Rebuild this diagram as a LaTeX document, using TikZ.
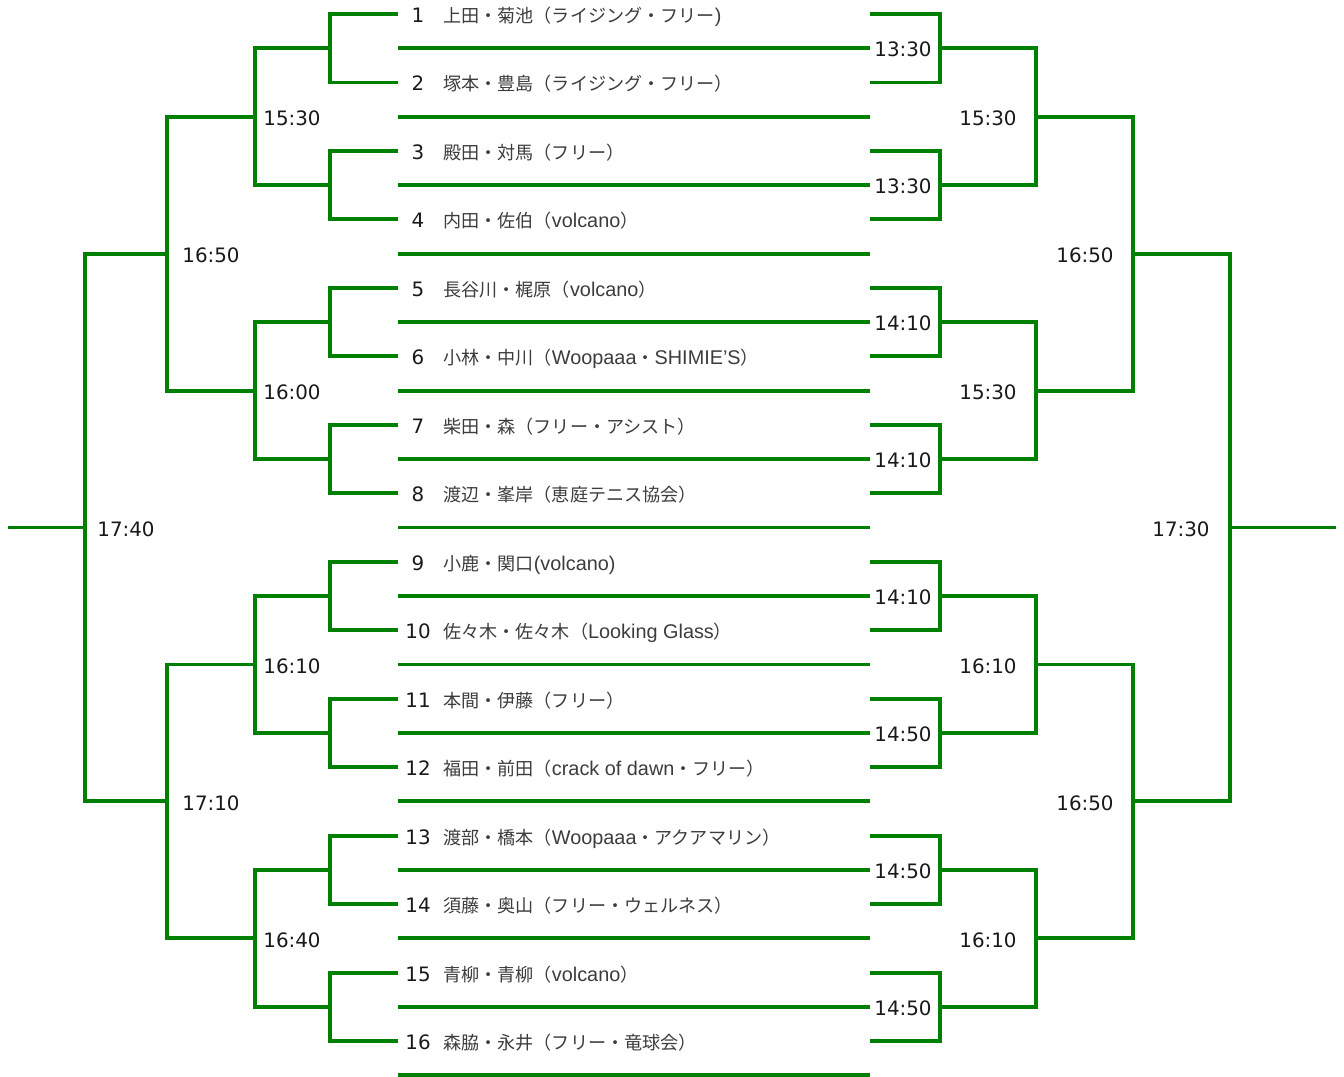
\documentclass[tikz,border=0pt]{standalone}
\usepackage{fontspec}
\setmainfont{DejaVu Sans}
\newfontfamily\jpfont{Noto Sans CJK JP}
\newfontfamily\latfont{Liberation Sans}
\newcommand{\lat}[1]{{\latfont\fontsize{11.3}{13}\selectfont #1}}
\definecolor{tgreen}{RGB}{0,128,0}
\definecolor{namegray}{RGB}{60,60,60}
\tikzset{
	bracket/.style={draw=tgreen, line width=2.2pt},
	rule/.style={draw=tgreen, line width=2.2pt},
	time/.style={anchor=base, inner sep=0pt, yshift=-0.03cm, text=black!90, font=\fontsize{11.3}{13}\selectfont},
	num/.style={anchor=base, inner sep=0pt, yshift=-0.03cm, text=black!90, font=\fontsize{11.3}{13}\selectfont},
	player/.style={anchor=base west, inner sep=0pt, yshift=-0.03cm, text=namegray, font=\jpfont\fontsize{10.3}{12}\selectfont}
}

\begin{document}
\begin{tikzpicture}[x=0.02cm, y=-0.02cm]
	\useasboundingbox (0,0) rectangle (1344,1077);
	
	% entries
	\node[num] (n1) at (418,21) {1};
	\node[player] (p1) at (443,21) {上田・菊池（ライジング・フリー\lat{)}};
	\node[num] (n2) at (418,89.5) {2};
	\node[player] (p2) at (443,89.5) {塚本・豊島（ライジング・フリー）};
	\node[num] (n3) at (418,157.9) {3};
	\node[player] (p3) at (443,157.9) {殿田・対馬（フリー）};
	\node[num] (n4) at (418,226.4) {4};
	\node[player] (p4) at (443,226.4) {内田・佐伯（\lat{volcano}）};
	\node[num] (n5) at (418,294.9) {5};
	\node[player] (p5) at (443,294.9) {長谷川・梶原（\lat{volcano}）};
	\node[num] (n6) at (418,363.4) {6};
	\node[player] (p6) at (443,363.4) {小林・中川（\lat{Woopaaa}・\lat{SHIMIE’S}）};
	\node[num] (n7) at (418,431.8) {7};
	\node[player] (p7) at (443,431.8) {柴田・森（フリー・アシスト）};
	\node[num] (n8) at (418,500.3) {8};
	\node[player] (p8) at (443,500.3) {渡辺・峯岸（恵庭テニス協会）};
	\node[num] (n9) at (418,568.8) {9};
	\node[player] (p9) at (443,568.8) {小鹿・関口\lat{(volcano)}};
	\node[num] (n10) at (418,637.2) {10};
	\node[player] (p10) at (443,637.2) {佐々木・佐々木（\lat{Looking Glass}）};
	\node[num] (n11) at (418,705.7) {11};
	\node[player] (p11) at (443,705.7) {本間・伊藤（フリー）};
	\node[num] (n12) at (418,774.2) {12};
	\node[player] (p12) at (443,774.2) {福田・前田（\lat{crack of dawn}・フリー）};
	\node[num] (n13) at (418,842.6) {13};
	\node[player] (p13) at (443,842.6) {渡部・橋本（\lat{Woopaaa}・アクアマリン）};
	\node[num] (n14) at (418,911.1) {14};
	\node[player] (p14) at (443,911.1) {須藤・奥山（フリー・ウェルネス）};
	\node[num] (n15) at (418,979.6) {15};
	\node[player] (p15) at (443,979.6) {青柳・青柳（\lat{volcano}）};
	\node[num] (n16) at (418,1048.1) {16};
	\node[player] (p16) at (443,1048.1) {森脇・永井（フリー・竜球会）};
	
	% stub ends, left (a) and right (b)
	\coordinate (a1) at (398,14);      \coordinate (b1) at (870,14);
	\coordinate (a2) at (398,82.5);    \coordinate (b2) at (870,82.5);
	\coordinate (a3) at (398,150.9);   \coordinate (b3) at (870,150.9);
	\coordinate (a4) at (398,219.4);   \coordinate (b4) at (870,219.4);
	\coordinate (a5) at (398,287.9);   \coordinate (b5) at (870,287.9);
	\coordinate (a6) at (398,356.4);   \coordinate (b6) at (870,356.4);
	\coordinate (a7) at (398,424.8);   \coordinate (b7) at (870,424.8);
	\coordinate (a8) at (398,493.3);   \coordinate (b8) at (870,493.3);
	\coordinate (a9) at (398,561.8);   \coordinate (b9) at (870,561.8);
	\coordinate (a10) at (398,630.2);  \coordinate (b10) at (870,630.2);
	\coordinate (a11) at (398,698.7);  \coordinate (b11) at (870,698.7);
	\coordinate (a12) at (398,767.2);  \coordinate (b12) at (870,767.2);
	\coordinate (a13) at (398,835.6);  \coordinate (b13) at (870,835.6);
	\coordinate (a14) at (398,904.1);  \coordinate (b14) at (870,904.1);
	\coordinate (a15) at (398,972.6);  \coordinate (b15) at (870,972.6);
	\coordinate (a16) at (398,1041.1); \coordinate (b16) at (870,1041.1);
	
	% junctions
	\coordinate (L1) at (330,48.2);   \coordinate (R1) at (940,48.2);
	\coordinate (L2) at (330,185.2);  \coordinate (R2) at (940,185.2);
	\coordinate (L3) at (330,322.1);  \coordinate (R3) at (940,322.1);
	\coordinate (L4) at (330,459.1);  \coordinate (R4) at (940,459.1);
	\coordinate (L5) at (330,596.0);  \coordinate (R5) at (940,596.0);
	\coordinate (L6) at (330,733.0);  \coordinate (R6) at (940,733.0);
	\coordinate (L7) at (330,869.9);  \coordinate (R7) at (940,869.9);
	\coordinate (L8) at (330,1006.8); \coordinate (R8) at (940,1006.8);
	\coordinate (L9) at (255,116.7);  \coordinate (R9) at (1036,116.7);
	\coordinate (L10) at (255,390.6); \coordinate (R10) at (1036,390.6);
	\coordinate (L11) at (255,664.5); \coordinate (R11) at (1036,664.5);
	\coordinate (L12) at (255,938.4); \coordinate (R12) at (1036,938.4);
	\coordinate (L13) at (167,253.6); \coordinate (R13) at (1133,253.6);
	\coordinate (L14) at (167,801.4); \coordinate (R14) at (1133,801.4);
	\coordinate (L15) at (85,527.5);  \coordinate (R15) at (1230,527.5);
	\coordinate (L0) at (8,527.5);    \coordinate (R0) at (1336,527.5);
	
	% left bracket
	\draw[bracket] (a1) -| (L1) |- (a2);
	\draw[bracket] (a3) -| (L2) |- (a4);
	\draw[bracket] (a5) -| (L3) |- (a6);
	\draw[bracket] (a7) -| (L4) |- (a8);
	\draw[bracket] (a9) -| (L5) |- (a10);
	\draw[bracket] (a11) -| (L6) |- (a12);
	\draw[bracket] (a13) -| (L7) |- (a14);
	\draw[bracket] (a15) -| (L8) |- (a16);
	\draw[bracket] (L1) -| (L9) |- (L2);
	\draw[bracket] (L3) -| (L10) |- (L4);
	\draw[bracket] (L5) -| (L11) |- (L6);
	\draw[bracket] (L7) -| (L12) |- (L8);
	\draw[bracket] (L9) -| (L13) |- (L10);
	\draw[bracket] (L11) -| (L14) |- (L12);
	\draw[bracket] (L13) -| (L15) |- (L14);
	\draw[bracket] (L15) -- (L0);
	
	% right bracket
	\draw[bracket] (b1) -| (R1) |- (b2);
	\draw[bracket] (b3) -| (R2) |- (b4);
	\draw[bracket] (b5) -| (R3) |- (b6);
	\draw[bracket] (b7) -| (R4) |- (b8);
	\draw[bracket] (b9) -| (R5) |- (b10);
	\draw[bracket] (b11) -| (R6) |- (b12);
	\draw[bracket] (b13) -| (R7) |- (b14);
	\draw[bracket] (b15) -| (R8) |- (b16);
	\draw[bracket] (R1) -| (R9) |- (R2);
	\draw[bracket] (R3) -| (R10) |- (R4);
	\draw[bracket] (R5) -| (R11) |- (R6);
	\draw[bracket] (R7) -| (R12) |- (R8);
	\draw[bracket] (R9) -| (R13) |- (R10);
	\draw[bracket] (R11) -| (R14) |- (R12);
	\draw[bracket] (R13) -| (R15) |- (R14);
	\draw[bracket] (R15) -- (R0);
	
	% rules between entries
	\draw[rule] (398,48.2) -- (870,48.2);
	\draw[rule] (398,116.7) -- (870,116.7);
	\draw[rule] (398,185.2) -- (870,185.2);
	\draw[rule] (398,253.6) -- (870,253.6);
	\draw[rule] (398,322.1) -- (870,322.1);
	\draw[rule] (398,390.6) -- (870,390.6);
	\draw[rule] (398,459.1) -- (870,459.1);
	\draw[rule] (398,527.5) -- (870,527.5);
	\draw[rule] (398,596.0) -- (870,596.0);
	\draw[rule] (398,664.5) -- (870,664.5);
	\draw[rule] (398,733.0) -- (870,733.0);
	\draw[rule] (398,801.4) -- (870,801.4);
	\draw[rule] (398,869.9) -- (870,869.9);
	\draw[rule] (398,938.4) -- (870,938.4);
	\draw[rule] (398,1006.8) -- (870,1006.8);
	\draw[rule] (398,1075.3) -- (870,1075.3);
	
	% times, left
	\node[time] (tl9) at (292,124.0) {15:30};
	\node[time] (tl10) at (292,397.9) {16:00};
	\node[time] (tl11) at (292,671.8) {16:10};
	\node[time] (tl12) at (292,945.7) {16:40};
	\node[time] (tl13) at (211,260.9) {16:50};
	\node[time] (tl14) at (211,808.7) {17:10};
	\node[time] (tl15) at (126,534.8) {17:40};
	
	% times, right
	\node[time] (tr1) at (903,55.5) {13:30};
	\node[time] (tr2) at (903,192.5) {13:30};
	\node[time] (tr3) at (903,329.4) {14:10};
	\node[time] (tr4) at (903,466.4) {14:10};
	\node[time] (tr5) at (903,603.3) {14:10};
	\node[time] (tr6) at (903,740.3) {14:50};
	\node[time] (tr7) at (903,877.2) {14:50};
	\node[time] (tr8) at (903,1014.1) {14:50};
	\node[time] (tr9) at (988,124.0) {15:30};
	\node[time] (tr10) at (988,397.9) {15:30};
	\node[time] (tr11) at (988,671.8) {16:10};
	\node[time] (tr12) at (988,945.7) {16:10};
	\node[time] (tr13) at (1085,260.9) {16:50};
	\node[time] (tr14) at (1085,808.7) {16:50};
	\node[time] (tr15) at (1181,534.8) {17:30};
	
\end{tikzpicture}
\end{document}
